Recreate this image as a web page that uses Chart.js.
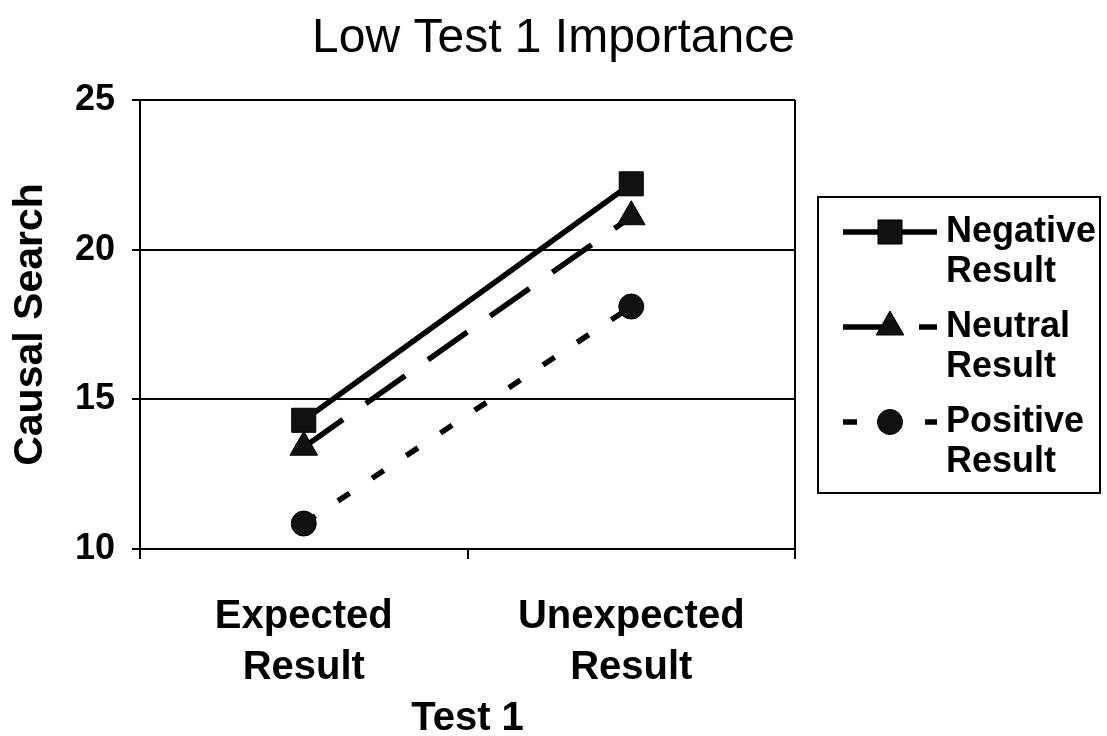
<!DOCTYPE html>
<html>
<head>
<meta charset="utf-8">
<script src="https://cdn.jsdelivr.net/npm/chart.js@4"></script>
<style>
  html, body { margin: 0; padding: 0; background: #fff; }
  #wrap { width: 1107px; height: 736px; }
</style>
</head>
<body>
<div id="wrap"><canvas id="myChart" width="1107" height="736"></canvas></div>
<script>
const chartTitle = 'Low Test 1 Importance';
const categories = [['Expected', 'Result'], ['Unexpected', 'Result']];
const seriesNames = [['Negative', 'Result'], ['Neutral', 'Result'], ['Positive', 'Result']];
const negativeValues = [14.3, 22.2];
const neutralValues = [13.4, 21.1];
const positiveValues = [10.85, 18.1];
const yMin = 10;
const yMax = 25;
const yStep = 5;

const FONT = "'Liberation Sans', Arial, sans-serif";
Chart.defaults.font.family = FONT;
Chart.defaults.color = '#000';

// same geometry as chart.js point styles
function drawMarker(ctx, style, r, x, y) {
  ctx.beginPath();
  if (style === 'rect') {
    const s = Math.SQRT1_2 * r;
    ctx.rect(x - s, y - s, 2 * s, 2 * s);
  } else if (style === 'triangle') {
    let rad = 0;
    ctx.moveTo(x + Math.sin(rad) * r, y - Math.cos(rad) * r);
    rad += 2 * Math.PI / 3;
    ctx.lineTo(x + Math.sin(rad) * r, y - Math.cos(rad) * r);
    rad += 2 * Math.PI / 3;
    ctx.lineTo(x + Math.sin(rad) * r, y - Math.cos(rad) * r);
    ctx.closePath();
  } else {
    ctx.arc(x, y, r, 0, Math.PI * 2);
  }
  ctx.fill();
  ctx.stroke();
}

const frameAndLegend = {
  id: 'frameAndLegend',
  afterDraw(chart) {
    const ctx = chart.ctx;
    const area = chart.chartArea;
    ctx.save();

    // title centred over the whole picture
    ctx.fillStyle = '#000';
    ctx.font = '48px ' + FONT;
    ctx.textAlign = 'center';
    ctx.textBaseline = 'middle';
    ctx.fillText(chartTitle, chart.width / 2, 39);

    // right edge of the plot frame
    ctx.strokeStyle = '#000';
    ctx.lineWidth = 2;
    ctx.beginPath();
    ctx.moveTo(area.right, area.top);
    ctx.lineTo(area.right, area.bottom);
    ctx.stroke();

    // legend box
    const x0 = area.right + 23, y0 = 197, w = 282, h = 296;
    ctx.lineWidth = 2;
    ctx.strokeRect(x0, y0, w, h);

    chart.data.datasets.forEach((ds, i) => {
      const cy = y0 + 35 + i * 95;
      ctx.strokeStyle = ds.borderColor;
      ctx.lineWidth = ds.borderWidth;
      ctx.setLineDash(ds.borderDash || []);
      ctx.beginPath();
      ctx.moveTo(x0 + 25, cy);
      ctx.lineTo(x0 + 119, cy);
      ctx.stroke();
      ctx.setLineDash([]);
      ctx.fillStyle = ds.pointBackgroundColor;
      ctx.lineWidth = 1;
      drawMarker(ctx, ds.pointStyle, ds.pointRadius, x0 + 72, cy);

      ctx.fillStyle = '#000';
      ctx.font = 'bold 36px ' + FONT;
      ctx.textAlign = 'left';
      ctx.textBaseline = 'middle';
      seriesNames[i].forEach((line, j) => {
        ctx.fillText(line, x0 + 128, cy + j * 40);
      });
    });
    ctx.restore();
  }
};

const ctx = document.getElementById('myChart');
let myChart = new Chart(ctx, {
  type: 'line',
  data: {
    labels: categories,
    datasets: [{
        label: seriesNames[0].join(' '),
        data: negativeValues,
        borderColor: '#000',
        borderWidth: 5.5,
        borderDash: [],
        pointStyle: 'rect',
        pointRadius: 17,
        pointBackgroundColor: '#111',
        pointBorderColor: '#000',
        pointBorderWidth: 1
      },
      {
        label: seriesNames[1].join(' '),
        data: neutralValues,
        borderColor: '#000',
        borderWidth: 5.5,
        borderDash: [48, 28],
        pointStyle: 'triangle',
        pointRadius: 16,
        pointBackgroundColor: '#111',
        pointBorderColor: '#000',
        pointBorderWidth: 1
      },
      {
        label: seriesNames[2].join(' '),
        data: positiveValues,
        borderColor: '#000',
        borderWidth: 5.5,
        borderDash: [14, 27],
        pointStyle: 'circle',
        pointRadius: 12.5,
        pointBackgroundColor: '#111',
        pointBorderColor: '#000',
        pointBorderWidth: 1
      }
    ]
  },
  options: {
    responsive: false,
    animation: false,
    layout: {
      padding: { left: 0, right: 312, top: 100, bottom: 0 }
    },
    plugins: {
      legend: { display: false },
      tooltip: { enabled: false },
      title: { display: false }
    },
    scales: {
      x: {
        offset: true,
        afterFit: (scale) => { scale.height = 187; },
        grid: {
          offset: true,
          drawOnChartArea: false,
          color: '#000',
          lineWidth: 2,
          tickLength: 10
        },
        border: { color: '#000', width: 2 },
        ticks: {
          padding: 33,
          color: '#000',
          font: { size: 40, weight: 'bold', lineHeight: 1.27 }
        },
        title: {
          display: true,
          text: 'Test 1',
          color: '#000',
          font: { size: 40, weight: 'bold', lineHeight: 1.0 },
          padding: { top: 0, bottom: -3 }
        }
      },
      y: {
        min: yMin,
        max: yMax,
        afterFit: (scale) => { scale.width = 140; },
        grid: {
          color: '#000',
          lineWidth: 2,
          tickLength: 8
        },
        border: { color: '#000', width: 2 },
        ticks: {
          stepSize: yStep,
          padding: 17,
          color: '#000',
          font: { size: 36, weight: 'bold' }
        },
        title: {
          display: true,
          text: 'Causal Search',
          color: '#000',
          font: { size: 41, weight: 'bold', lineHeight: 1.2 },
          padding: { top: 6, bottom: 0 }
        }
      }
    }
  },
  plugins: [frameAndLegend]
});
</script>
</body>
</html>
